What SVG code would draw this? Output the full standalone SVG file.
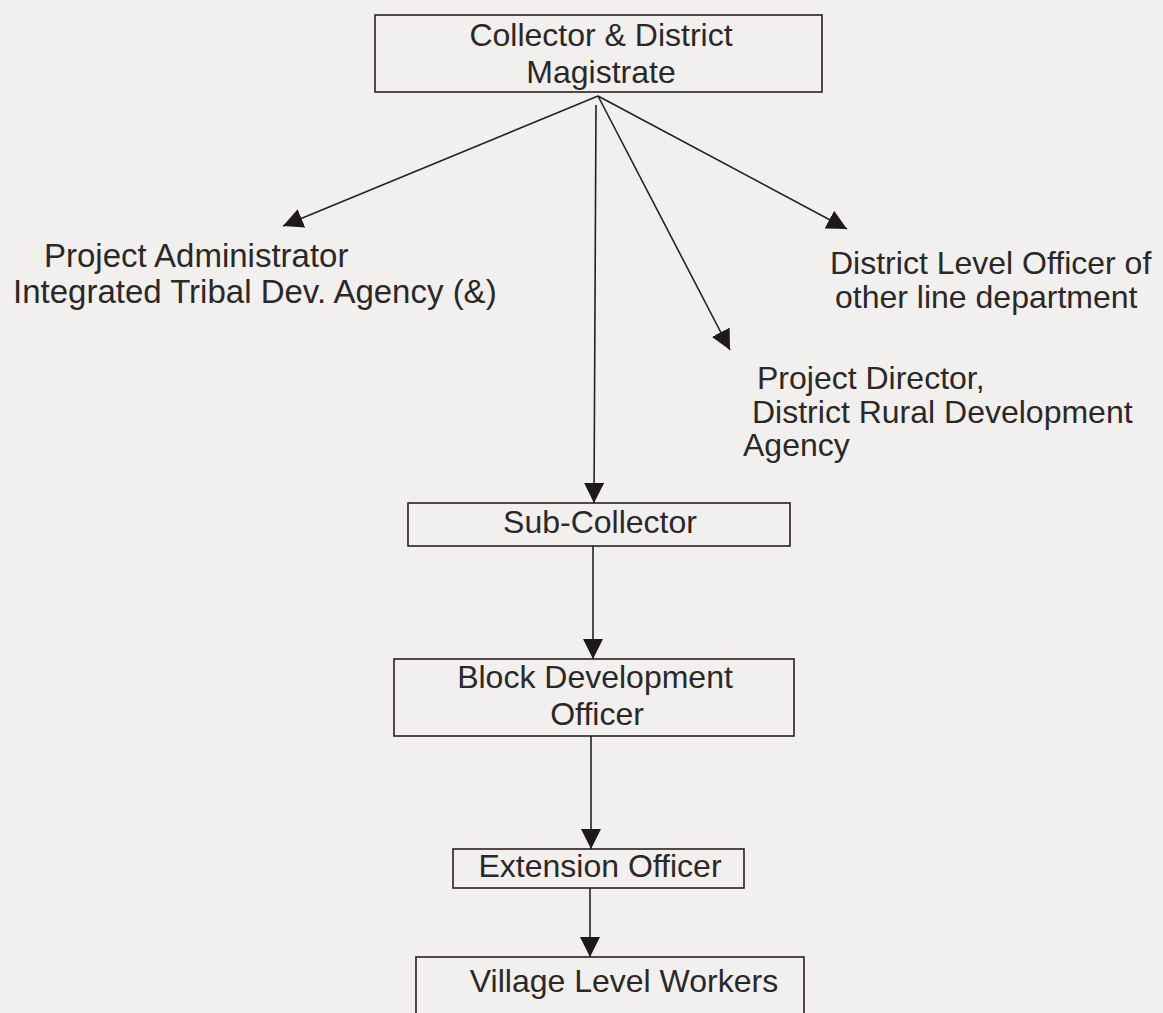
<svg xmlns="http://www.w3.org/2000/svg" width="1163" height="1013" viewBox="0 0 1163 1013">
<style>
.box{fill:none;stroke:#2a2020;stroke-width:1.6}
.t{font-family:"Liberation Sans",Arial,sans-serif;font-size:32px;fill:#2b2828}
.l{font-size:33px}
.c{text-anchor:middle}
.ln{stroke:#222;stroke-width:1.6;fill:none;marker-end:url(#ah)}
</style>
<defs>
<marker id="ah" viewBox="0 0 20 20" refX="20" refY="10" markerWidth="20" markerHeight="20" markerUnits="userSpaceOnUse" orient="auto">
<path d="M0,0 L20,10 L0,20 Z" fill="#1e1a1a"/>
</marker>
</defs>
<rect width="1163" height="1013" fill="#f2efef"/>
<g id="connectors">
<line class="ln" x1="598" y1="96" x2="283" y2="226"/>
<line class="ln" x1="598" y1="96" x2="847" y2="229"/>
<line class="ln" x1="598" y1="96" x2="730" y2="350"/>
<line class="ln" x1="596" y1="105" x2="594" y2="503"/>
<line class="ln" x1="593" y1="546" x2="593" y2="659"/>
<line class="ln" x1="591" y1="736" x2="591" y2="849"/>
<line class="ln" x1="590" y1="888" x2="590" y2="957"/>
</g>
<g id="collector">
<rect class="box" x="375" y="15" width="447" height="77"/>
<text class="t c" x="601" y="46">Collector &amp; District</text>
<text class="t c" x="601" y="83">Magistrate</text>
</g>
<g id="project-administrator">
<text class="t l" x="44" y="267">Project Administrator</text>
<text class="t l" x="13" y="303">Integrated Tribal Dev. Agency (&amp;)</text>
</g>
<g id="district-level-officer">
<text class="t" x="830" y="274">District Level Officer of</text>
<text class="t" x="835" y="308">other line department</text>
</g>
<g id="project-director">
<text class="t" x="757" y="389">Project Director,</text>
<text class="t" x="752" y="423">District Rural Development</text>
<text class="t" x="743" y="456">Agency</text>
</g>
<g id="sub-collector">
<rect class="box" x="408" y="503" width="382" height="43"/>
<text class="t c" x="600" y="533">Sub-Collector</text>
</g>
<g id="bdo">
<rect class="box" x="394" y="659" width="400" height="77"/>
<text class="t c" x="595" y="688">Block Development</text>
<text class="t c" x="597" y="725">Officer</text>
</g>
<g id="extension-officer">
<rect class="box" x="453" y="849" width="291" height="39"/>
<text class="t c" x="600" y="877">Extension Officer</text>
</g>
<g id="village-level-workers">
<rect class="box" x="416" y="957" width="388" height="70"/>
<text class="t c" x="624" y="992">Village Level Workers</text>
</g>
</svg>
